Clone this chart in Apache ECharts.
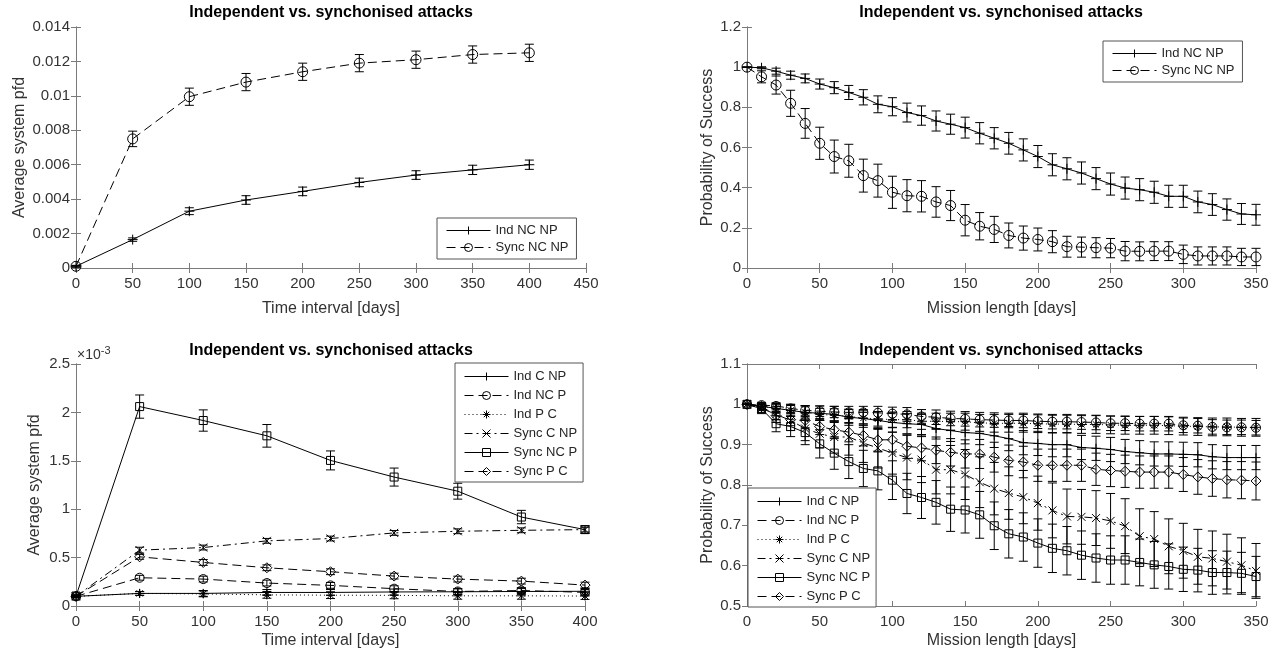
<!DOCTYPE html>
<html>
<head>
<meta charset="utf-8">
<script src="https://cdn.jsdelivr.net/npm/echarts@6/dist/echarts.min.js"></script>
<style>
  html, body { margin: 0; padding: 0; background: #fff; }
  #main { width: 1278px; height: 655px; }
</style>
</head>
<body>
<div id="main"></div>
<script>
/********************** data ************************/
// top left: average pfd vs time interval
var p1X = [0, 50, 100, 150, 200, 250, 300, 350, 400];
var p1IndNCNP = [0.0001, 0.00165, 0.0033, 0.00395, 0.00445, 0.00497, 0.0054, 0.0057, 0.006];
var p1IndNCNPErr = [0.00005, 0.0001, 0.0002, 0.00025, 0.00025, 0.00025, 0.00025, 0.00027, 0.00027];
var p1SyncNCNP = [0.0001, 0.0075, 0.00995, 0.0108, 0.0114, 0.0119, 0.0121, 0.0124, 0.0125];
var p1SyncNCNPErr = [0.00005, 0.00045, 0.0005, 0.0005, 0.0005, 0.0005, 0.0005, 0.0005, 0.0005];

// top right: probability of success vs mission length
var p2X = [0, 10, 20, 30, 40, 50, 60, 70, 80, 90, 100, 110, 120, 130, 140, 150, 160, 170,
  180, 190, 200, 210, 220, 230, 240, 250, 260, 270, 280, 290, 300, 310, 320, 330, 340, 350];
var p2IndNCNP = [1.0, 0.997, 0.98, 0.96, 0.944, 0.916, 0.898, 0.874, 0.85, 0.815, 0.803, 0.774,
  0.759, 0.732, 0.716, 0.699, 0.671, 0.646, 0.621, 0.588, 0.555, 0.514, 0.494, 0.473, 0.445,
  0.418, 0.398, 0.39, 0.377, 0.357, 0.357, 0.329, 0.316, 0.291, 0.269, 0.265];
var p2IndNCNPErr = [0, 0.005, 0.015, 0.02, 0.022, 0.025, 0.03, 0.035, 0.038, 0.042, 0.045, 0.047,
  0.048, 0.05, 0.05, 0.052, 0.053, 0.053, 0.054, 0.055, 0.055, 0.055, 0.055, 0.055, 0.055,
  0.055, 0.055, 0.055, 0.055, 0.055, 0.055, 0.054, 0.054, 0.053, 0.052, 0.052];
var p2SyncNCNP = [1.0, 0.952, 0.911, 0.82, 0.72, 0.621, 0.555, 0.534, 0.46, 0.435, 0.377, 0.36,
  0.357, 0.329, 0.311, 0.238, 0.208, 0.192, 0.162, 0.149, 0.142, 0.131, 0.106, 0.104, 0.101,
  0.099, 0.084, 0.083, 0.084, 0.084, 0.068, 0.06, 0.06, 0.06, 0.055, 0.055];
var p2SyncNCNPErr = [0, 0.03, 0.045, 0.065, 0.074, 0.08, 0.082, 0.082, 0.082, 0.082, 0.08, 0.08,
  0.078, 0.076, 0.075, 0.078, 0.068, 0.065, 0.062, 0.06, 0.057, 0.055, 0.052, 0.05, 0.05,
  0.048, 0.048, 0.047, 0.047, 0.047, 0.046, 0.045, 0.045, 0.045, 0.043, 0.043];

// bottom left: average pfd (x10^-3) vs time interval
var p3X = [0, 50, 100, 150, 200, 250, 300, 350, 400];
var p3IndCNP = [0.0001, 0.00013, 0.00013, 0.00014, 0.00014, 0.000145, 0.000147, 0.00015, 0.000152];
var p3IndCNPErr = [0.00001, 0.00002, 0.00003, 0.00003, 0.00003, 0.00003, 0.00003, 0.00003, 0.00003];
var p3IndNCP = [0.0001, 0.000292, 0.000278, 0.000237, 0.000213, 0.000179, 0.00015, 0.00016, 0.000141];
var p3IndNCPErr = [0.00001, 0.000025, 0.00003, 0.00003, 0.00003, 0.00003, 0.00003, 0.00003, 0.00003];
var p3IndPC = [0.0001, 0.00013, 0.000125, 0.000115, 0.000112, 0.00011, 0.000105, 0.000105, 0.000103];
var p3IndPCErr = [0.00001, 0.00002, 0.00003, 0.000035, 0.000035, 0.000035, 0.000035, 0.000035, 0.000035];
var p3SyncCNP = [0.0001, 0.000577, 0.000604, 0.000673, 0.000697, 0.000755, 0.000772, 0.000782, 0.000789];
var p3SyncCNPErr = [0.00001, 0.00003, 0.000025, 0.000025, 0.000025, 0.000025, 0.000025, 0.000025, 0.000025];
var p3SyncNCP = [0.000103, 0.00206, 0.001916, 0.001758, 0.001504, 0.001332, 0.001186, 0.000919, 0.000789];
var p3SyncNCPErr = [0.00001, 0.00012, 0.00011, 0.000117, 0.000098, 0.000093, 0.000082, 0.000069, 0.00004];
var p3SyncPC = [0.0001, 0.000508, 0.00045, 0.000395, 0.000354, 0.000309, 0.000278, 0.000257, 0.000216];
var p3SyncPCErr = [0.00001, 0.000025, 0.00003, 0.00003, 0.00003, 0.00003, 0.00003, 0.00003, 0.00003];

// bottom right: probability of success vs mission length
var p4X = p2X;
var p4IndCNP = [1.0, 0.995, 0.99, 0.985, 0.98, 0.978, 0.975, 0.968, 0.965, 0.96, 0.955, 0.952,
  0.95, 0.94, 0.935, 0.93, 0.928, 0.922, 0.915, 0.905, 0.903, 0.9, 0.9, 0.893, 0.891, 0.888,
  0.883, 0.88, 0.877, 0.877, 0.876, 0.875, 0.87, 0.868, 0.868, 0.868];
var p4IndCNPErr = [0, 0.01, 0.012, 0.015, 0.017, 0.018, 0.02, 0.02, 0.022, 0.022, 0.024, 0.025,
  0.025, 0.026, 0.027, 0.028, 0.028, 0.029, 0.03, 0.03, 0.03, 0.03, 0.03, 0.03, 0.03, 0.03,
  0.03, 0.03, 0.03, 0.03, 0.03, 0.03, 0.03, 0.03, 0.03, 0.03];
var p4IndNCP = [1.0, 0.998, 0.996, 0.99, 0.985, 0.983, 0.981, 0.98, 0.98, 0.979, 0.977, 0.975,
  0.97, 0.968, 0.965, 0.964, 0.962, 0.961, 0.96, 0.96, 0.958, 0.957, 0.957, 0.956, 0.955, 0.953,
  0.953, 0.952, 0.952, 0.952, 0.948, 0.947, 0.944, 0.943, 0.943, 0.942];
var p4IndNCPErr = [0, 0.005, 0.008, 0.01, 0.012, 0.013, 0.014, 0.015, 0.015, 0.016, 0.016, 0.017,
  0.017, 0.018, 0.018, 0.018, 0.018, 0.018, 0.018, 0.018, 0.018, 0.018, 0.018, 0.018, 0.018,
  0.018, 0.018, 0.018, 0.018, 0.018, 0.018, 0.018, 0.018, 0.018, 0.018, 0.018];
var p4IndPC = [1.0, 0.995, 0.99, 0.985, 0.98, 0.975, 0.973, 0.97, 0.966, 0.964, 0.962, 0.962,
  0.958, 0.958, 0.957, 0.957, 0.954, 0.953, 0.953, 0.953, 0.952, 0.951, 0.951, 0.95, 0.95,
  0.949, 0.948, 0.948, 0.948, 0.947, 0.946, 0.945, 0.944, 0.944, 0.943, 0.943];
var p4IndPCErr = [0, 0.008, 0.01, 0.012, 0.014, 0.015, 0.016, 0.017, 0.018, 0.018, 0.019, 0.02,
  0.02, 0.02, 0.021, 0.021, 0.021, 0.022, 0.022, 0.022, 0.022, 0.022, 0.022, 0.022, 0.022,
  0.022, 0.022, 0.022, 0.022, 0.022, 0.022, 0.022, 0.022, 0.022, 0.022, 0.022];
var p4SyncCNP = [1.0, 0.99, 0.975, 0.96, 0.94, 0.927, 0.919, 0.919, 0.904, 0.892, 0.879, 0.868,
  0.863, 0.838, 0.838, 0.826, 0.807, 0.791, 0.78, 0.77, 0.755, 0.737, 0.722, 0.721, 0.718,
  0.711, 0.698, 0.673, 0.666, 0.648, 0.637, 0.622, 0.618, 0.61, 0.601, 0.587];
var p4SyncCNPErr = [0, 0.01, 0.02, 0.025, 0.03, 0.035, 0.04, 0.045, 0.048, 0.05, 0.052, 0.055,
  0.057, 0.06, 0.06, 0.062, 0.063, 0.065, 0.065, 0.066, 0.067, 0.068, 0.068, 0.068, 0.068,
  0.068, 0.068, 0.068, 0.068, 0.068, 0.068, 0.068, 0.068, 0.068, 0.068, 0.068];
var p4SyncNCP = [1.0, 0.989, 0.952, 0.945, 0.93, 0.902, 0.879, 0.858, 0.841, 0.835, 0.812, 0.779,
  0.769, 0.757, 0.74, 0.738, 0.726, 0.699, 0.679, 0.671, 0.656, 0.643, 0.637, 0.626, 0.619,
  0.614, 0.614, 0.608, 0.602, 0.598, 0.591, 0.589, 0.583, 0.583, 0.581, 0.573];
var p4SyncNCPErr = [0, 0.012, 0.02, 0.025, 0.03, 0.035, 0.04, 0.042, 0.045, 0.047, 0.048, 0.05,
  0.052, 0.054, 0.055, 0.057, 0.058, 0.059, 0.06, 0.06, 0.06, 0.06, 0.06, 0.06, 0.06, 0.06,
  0.06, 0.058, 0.058, 0.056, 0.055, 0.054, 0.054, 0.053, 0.052, 0.05];
var p4SyncPC = [1.0, 0.995, 0.972, 0.962, 0.96, 0.945, 0.937, 0.931, 0.923, 0.912, 0.912, 0.896,
  0.892, 0.886, 0.881, 0.877, 0.877, 0.869, 0.861, 0.857, 0.849, 0.849, 0.849, 0.849, 0.839,
  0.836, 0.834, 0.832, 0.832, 0.832, 0.826, 0.82, 0.816, 0.813, 0.812, 0.81];
var p4SyncPCErr = [0, 0.005, 0.01, 0.015, 0.018, 0.02, 0.022, 0.024, 0.026, 0.028, 0.03, 0.03,
  0.032, 0.033, 0.034, 0.035, 0.036, 0.037, 0.038, 0.039, 0.04, 0.04, 0.04, 0.04, 0.04, 0.04,
  0.04, 0.04, 0.04, 0.04, 0.042, 0.043, 0.044, 0.045, 0.046, 0.047];

var titleText = 'Independent vs. synchonised attacks';

/********************** helpers ************************/
var FONT = '"Liberation Sans", Arial, Helvetica, sans-serif';
var AXIS_COLOR = '#7a7a7a';
var TEXT_COLOR = '#333';

// MATLAB markers
var SYM = {
  plus: 'path://M5,0L5,10M0,5L10,5',
  star: 'path://M5,0L5,10M0,5L10,5M1.6,1.6L8.4,8.4M1.6,8.4L8.4,1.6',
  cross: 'path://M0,0L10,10M0,10L10,0',
  circle: 'circle',
  square: 'rect',
  diamond: 'diamond'
};
var DASH = {
  solid: 'solid',
  dashed: [9, 5],
  dotted: [1, 3],
  dashdot: [8, 4, 2, 4]
};

function zip(xs, ys) {
  return xs.map(function (x, i) { return [x, ys[i]]; });
}

function xAxes(g, min, max, interval, name, gap) {
  var base = {
    gridIndex: g, type: 'value', min: min, max: max, interval: interval,
    axisLine: { show: true, lineStyle: { color: AXIS_COLOR, width: 1 } },
    axisTick: { show: true, inside: true, length: 5, lineStyle: { color: AXIS_COLOR } },
    splitLine: { show: false }
  };
  var bottom = Object.assign({}, base, {
    position: 'bottom',
    axisLabel: { color: TEXT_COLOR, fontSize: 15, fontFamily: FONT, margin: 8 },
    name: name, nameLocation: 'middle', nameGap: gap,
    nameTextStyle: { color: TEXT_COLOR, fontSize: 16, fontFamily: FONT }
  });
  var top = Object.assign({}, base, { position: 'top', axisLabel: { show: false } });
  return [bottom, top];
}

function yAxes(g, min, max, interval, name, gap, fmt) {
  var base = {
    gridIndex: g, type: 'value', min: min, max: max, interval: interval,
    axisLine: { show: true, lineStyle: { color: AXIS_COLOR, width: 1 } },
    axisTick: { show: true, inside: true, length: 5, lineStyle: { color: AXIS_COLOR } },
    splitLine: { show: false }
  };
  var left = Object.assign({}, base, {
    position: 'left',
    axisLabel: { color: TEXT_COLOR, fontSize: 15, fontFamily: FONT, margin: 6, formatter: fmt },
    name: name, nameLocation: 'middle', nameGap: gap, nameRotate: 90,
    nameTextStyle: { color: TEXT_COLOR, fontSize: 16, fontFamily: FONT }
  });
  var right = Object.assign({}, base, { position: 'right', axisLabel: { show: false } });
  return [left, right];
}

function lineSeries(name, xs, ys, g, sym, dash, size) {
  return {
    name: name, type: 'line', xAxisIndex: 2 * g, yAxisIndex: 2 * g,
    data: zip(xs, ys), symbol: SYM[sym], symbolSize: size, showAllSymbol: true,
    lineStyle: { color: '#000', width: 1, type: DASH[dash] },
    itemStyle: { color: 'rgba(0,0,0,0)', borderColor: '#000', borderWidth: 1 },
    emphasis: { disabled: true }, z: 3
  };
}

function errSeries(xs, ys, es, g) {
  var d = xs.map(function (x, i) { return [x, ys[i] - es[i], ys[i] + es[i]]; });
  return {
    type: 'custom', xAxisIndex: 2 * g, yAxisIndex: 2 * g, data: d, z: 2,
    encode: { x: 0, y: [1, 2] }, silent: true,
    renderItem: function (params, api) {
      var lo = api.coord([api.value(0), api.value(1)]);
      var hi = api.coord([api.value(0), api.value(2)]);
      var w = 4.5;
      var st = { stroke: '#000', lineWidth: 1 };
      return {
        type: 'group', children: [
          { type: 'line', shape: { x1: lo[0], y1: lo[1], x2: hi[0], y2: hi[1] }, style: st },
          { type: 'line', shape: { x1: lo[0] - w, y1: lo[1], x2: lo[0] + w, y2: lo[1] }, style: st },
          { type: 'line', shape: { x1: hi[0] - w, y1: hi[1], x2: hi[0] + w, y2: hi[1] }, style: st }
        ]
      };
    }
  };
}

function legendBox(names, left, top, gap, pad) {
  return {
    data: names, orient: 'vertical', left: left, top: top,
    backgroundColor: '#fff', borderColor: '#555', borderWidth: 1,
    padding: pad, itemGap: gap, itemWidth: 44, itemHeight: 10,
    selectedMode: false,
    lineStyle: { width: 1 },
    itemStyle: { borderWidth: 1 },
    textStyle: { color: '#262626', fontSize: 13, fontFamily: FONT }
  };
}

function titleText2(x, y) {
  return {
    type: 'text', x: x, y: y,
    style: { text: titleText, font: 'bold 16px ' + FONT, fill: '#000', align: 'center', verticalAlign: 'middle' }
  };
}

/********************** chart ************************/
var myChart = echarts.init(document.getElementById('main'));

var x1 = xAxes(0, 0, 450, 50, 'Time interval [days]', 33);
var x2 = xAxes(1, 0, 350, 50, 'Mission length [days]', 33);
var x3 = xAxes(2, 0, 400, 50, 'Time interval [days]', 27);
var x4 = xAxes(3, 0, 350, 50, 'Mission length [days]', 27);
var y1 = yAxes(0, 0, 0.014, 0.002, 'Average system pfd', 48);
var y2 = yAxes(1, 0, 1.2, 0.2, 'Probability of Success', 31);
var y3 = yAxes(2, 0, 0.0025, 0.0005, 'Average system pfd', 33, function (v) {
  return String(parseFloat((v * 1000).toFixed(2)));
});
var y4 = yAxes(3, 0.5, 1.1, 0.1, 'Probability of Success', 31);

var option = {
  animation: false,
  backgroundColor: '#fff',
  textStyle: { fontFamily: FONT },
  grid: [
    { left: 76, top: 27, width: 510, height: 241 },
    { left: 747, top: 27, width: 509, height: 241 },
    { left: 76, top: 364, width: 509, height: 242 },
    { left: 747, top: 364, width: 509, height: 242 }
  ],
  xAxis: x1.concat(x2, x3, x4),
  yAxis: y1.concat(y2, y3, y4),
  legend: [
    legendBox(['Ind NC NP', 'Sync NC NP'], 437, 218, 4, [6, 8, 5, 9]),
    legendBox(['Ind NC NP', 'Sync NC NP'], 1103, 41, 4, [6, 8, 5, 9]),
    legendBox(['Ind C NP', 'Ind NC P', 'Ind P C', 'Sync C NP', 'Sync NC P', 'Sync P C'], 455, 363, 6, [7, 6, 4, 9]),
    legendBox(['Ind C NP', 'Ind NC P', 'Ind P C', 'Sync C NP', 'Sync NC P', 'Sync P C'], 748, 488, 6, [7, 6, 4, 9])
  ],
  graphic: [
    titleText2(331, 13),
    titleText2(1001, 13),
    titleText2(331, 351),
    titleText2(1001, 351),
    {
      type: 'text', x: 77, y: 355,
      style: {
        text: '×10{s|-3}', font: '14px ' + FONT, fill: TEXT_COLOR, verticalAlign: 'middle',
        rich: { s: { fontSize: 11, fontFamily: FONT, fill: TEXT_COLOR, verticalAlign: 'top', padding: [0, 0, 8, 0] } }
      }
    }
  ],
  series: [
    // top left
    errSeries(p1X, p1IndNCNP, p1IndNCNPErr, 0),
    errSeries(p1X, p1SyncNCNP, p1SyncNCNPErr, 0),
    lineSeries('Ind NC NP', p1X, p1IndNCNP, 0, 'plus', 'solid', 10),
    lineSeries('Sync NC NP', p1X, p1SyncNCNP, 0, 'circle', 'dashed', 10),
    // top right
    errSeries(p2X, p2IndNCNP, p2IndNCNPErr, 1),
    errSeries(p2X, p2SyncNCNP, p2SyncNCNPErr, 1),
    lineSeries('Ind NC NP', p2X, p2IndNCNP, 1, 'plus', 'solid', 10),
    lineSeries('Sync NC NP', p2X, p2SyncNCNP, 1, 'circle', 'dashed', 10),
    // bottom left
    errSeries(p3X, p3IndCNP, p3IndCNPErr, 2),
    errSeries(p3X, p3IndNCP, p3IndNCPErr, 2),
    errSeries(p3X, p3IndPC, p3IndPCErr, 2),
    errSeries(p3X, p3SyncCNP, p3SyncCNPErr, 2),
    errSeries(p3X, p3SyncNCP, p3SyncNCPErr, 2),
    errSeries(p3X, p3SyncPC, p3SyncPCErr, 2),
    lineSeries('Ind C NP', p3X, p3IndCNP, 2, 'plus', 'solid', 9),
    lineSeries('Ind NC P', p3X, p3IndNCP, 2, 'circle', 'dashed', 9),
    lineSeries('Ind P C', p3X, p3IndPC, 2, 'star', 'dotted', 9),
    lineSeries('Sync C NP', p3X, p3SyncCNP, 2, 'cross', 'dashdot', 8),
    lineSeries('Sync NC P', p3X, p3SyncNCP, 2, 'square', 'solid', 8),
    lineSeries('Sync P C', p3X, p3SyncPC, 2, 'diamond', 'dashed', 10),
    // bottom right
    errSeries(p4X, p4IndCNP, p4IndCNPErr, 3),
    errSeries(p4X, p4IndNCP, p4IndNCPErr, 3),
    errSeries(p4X, p4IndPC, p4IndPCErr, 3),
    errSeries(p4X, p4SyncCNP, p4SyncCNPErr, 3),
    errSeries(p4X, p4SyncNCP, p4SyncNCPErr, 3),
    errSeries(p4X, p4SyncPC, p4SyncPCErr, 3),
    lineSeries('Ind C NP', p4X, p4IndCNP, 3, 'plus', 'solid', 9),
    lineSeries('Ind NC P', p4X, p4IndNCP, 3, 'circle', 'dashed', 9),
    lineSeries('Ind P C', p4X, p4IndPC, 3, 'star', 'dotted', 9),
    lineSeries('Sync C NP', p4X, p4SyncCNP, 3, 'cross', 'dashdot', 8),
    lineSeries('Sync NC P', p4X, p4SyncNCP, 3, 'square', 'solid', 8),
    lineSeries('Sync P C', p4X, p4SyncPC, 3, 'diamond', 'dashed', 10)
  ]
};

myChart.setOption(option);
window.addEventListener('resize', function () {
  myChart.resize();
});
</script>
</body>
</html>
